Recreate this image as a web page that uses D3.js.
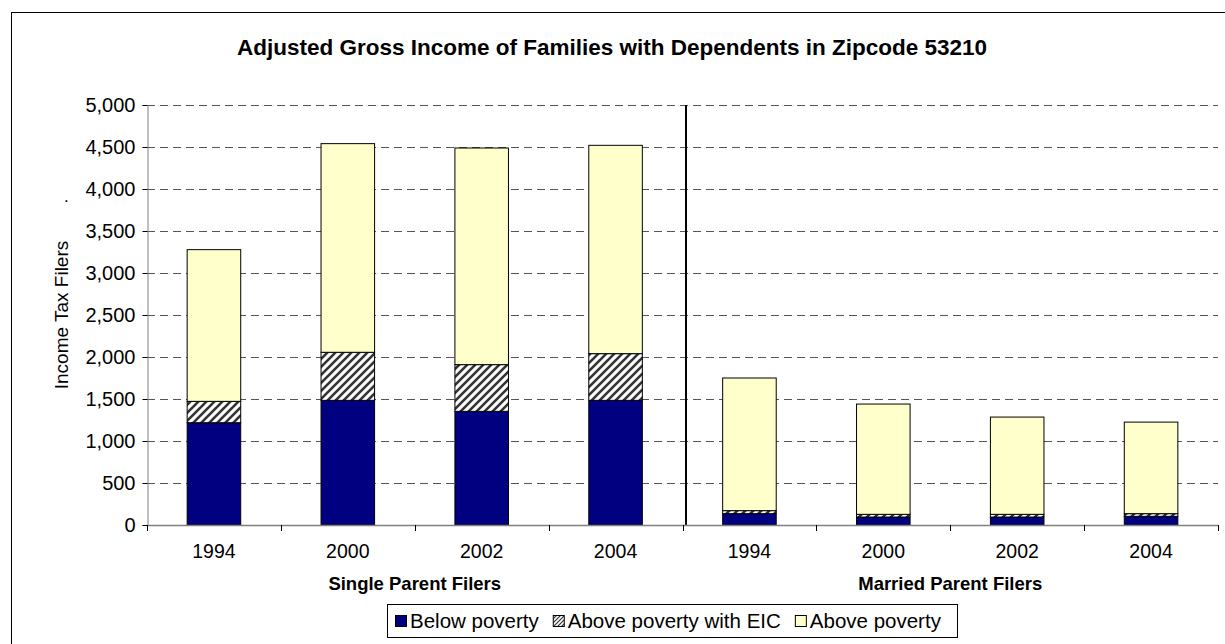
<!DOCTYPE html>
<html>
<head>
<meta charset="utf-8">
<script src="https://cdn.jsdelivr.net/npm/d3@7"></script>
<style>
  html, body { margin: 0; padding: 0; background: #fff; }
  svg { display: block; font-family: "Liberation Sans", Arial, sans-serif; }
</style>
</head>
<body>
<svg id="chart" width="1225" height="644"></svg>
<script>
// ---- data ----
const categories = ["1994", "2000", "2002", "2004", "1994", "2000", "2002", "2004"];
const groups = ["Single Parent Filers", "Married Parent Filers"];
const seriesNames = ["Below poverty", "Above poverty with EIC", "Above poverty"];
const belowPoverty = [1218, 1484, 1353, 1484, 135, 95, 95, 103];
const aboveWithEIC = [254, 572, 556, 556, 36, 32, 32, 32];
const abovePoverty = [1806, 2484, 2579, 2480, 1579, 1313, 1158, 1090];
const yTicks = [0, 500, 1000, 1500, 2000, 2500, 3000, 3500, 4000, 4500, 5000];
const titleText = "Adjusted Gross Income of Families with Dependents in Zipcode 53210";
const yAxisTitle = "Income Tax Filers";

// ---- build ----
const svg = d3.select("#chart");
const W = 1225, H = 644;
const plot = { left: 147, right: 1218, top: 105, bottom: 525 };

const defs = svg.append("defs");
const pat = defs.append("pattern")
  .attr("id", "hatch").attr("patternUnits", "userSpaceOnUse")
  .attr("width", 8).attr("height", 8);
pat.append("rect").attr("width", 8).attr("height", 8).attr("fill", "#fff");
pat.append("path").attr("d", "M-2,2 L2,-2 M0,8 L8,0 M6,10 L10,6")
  .attr("stroke", "#333").attr("stroke-width", 2.6);
const patS = defs.append("pattern")
  .attr("id", "hatchS").attr("patternUnits", "userSpaceOnUse")
  .attr("width", 4).attr("height", 4);
patS.append("rect").attr("width", 4).attr("height", 4).attr("fill", "#fff");
patS.append("path").attr("d", "M-1,1 L1,-1 M0,4 L4,0 M3,5 L5,3")
  .attr("stroke", "#333").attr("stroke-width", 1.2);

svg.append("rect").attr("width", W).attr("height", H).attr("fill", "#fff");
// outer border
svg.append("rect").attr("x", 11.5).attr("y", 12.5).attr("width", 1240).attr("height", 660)
  .attr("fill", "none").attr("stroke", "#000").attr("stroke-width", 1);

const idx = d3.range(categories.length);
const x = d3.scaleBand().domain(idx).range([plot.left, plot.right])
  .paddingInner(0.6).paddingOuter(0.3);
const y = d3.scaleLinear().domain([0, 5000]).range([plot.bottom, plot.top]);

// gridlines
svg.append("g").selectAll("line").data(yTicks.filter(d => d > 0)).join("line")
  .attr("x1", plot.left).attr("x2", plot.right)
  .attr("y1", d => Math.round(y(d)) + 0.5).attr("y2", d => Math.round(y(d)) + 0.5)
  .attr("stroke", "#555").attr("stroke-width", 1).attr("stroke-dasharray", "8,5");

// stacked bars
const rows = idx.map(i => ({ i, below: belowPoverty[i], eic: aboveWithEIC[i], above: abovePoverty[i] }));
const stack = d3.stack().keys(["below", "eic", "above"]);
const stacked = stack(rows);
const fills = { below: "#000080", eic: "url(#hatch)", above: "#FFFFCC" };
const gBars = svg.append("g");
stacked.forEach(layer => {
  gBars.append("g").selectAll("rect").data(layer).join("rect")
    .attr("x", d => x(d.data.i))
    .attr("width", x.bandwidth())
    .attr("y", d => y(d[1]))
    .attr("height", d => y(d[0]) - y(d[1]))
    .attr("fill", fills[layer.key])
    .attr("stroke", "#000").attr("stroke-width", 1);
});

// separator line between groups
const sepX = plot.left + x.step() * 4 + 3.5;
svg.append("line").attr("x1", sepX).attr("x2", sepX)
  .attr("y1", plot.top).attr("y2", plot.bottom)
  .attr("stroke", "#000").attr("stroke-width", 2);

// y axis
const yAxis = d3.axisLeft(y).tickValues(yTicks).tickSize(5).tickPadding(7)
  .tickFormat(d3.format(","));
const gy = svg.append("g").attr("transform", `translate(${plot.left + 0.5},0)`).call(yAxis);
gy.select(".domain").attr("stroke", "#808080");
gy.selectAll(".tick line").attr("stroke", "#000");
gy.selectAll("text").attr("font-size", 20).attr("fill", "#000")
  .attr("font-family", "Liberation Sans, Arial, sans-serif");

// x axis line + boundary ticks
svg.append("line").attr("x1", plot.left).attr("x2", plot.right)
  .attr("y1", plot.bottom + 0.5).attr("y2", plot.bottom + 0.5)
  .attr("stroke", "#808080").attr("stroke-width", 1.5);
const bounds = d3.range(categories.length + 1).map(k => plot.left + k * x.step());
svg.append("g").selectAll("line").data(bounds).join("line")
  .attr("x1", d => Math.round(d) + 0.5).attr("x2", d => Math.round(d) + 0.5)
  .attr("y1", plot.bottom).attr("y2", plot.bottom + 6)
  .attr("stroke", "#000").attr("stroke-width", 1);

// category labels
svg.append("g").selectAll("text").data(idx).join("text")
  .attr("x", d => x(d) + x.bandwidth() / 2)
  .attr("y", 558)
  .attr("text-anchor", "middle").attr("font-size", 19.5)
  .text(d => categories[d]);

// group labels
svg.append("g").selectAll("text").data(groups).join("text")
  .attr("x", (d, g) => plot.left + x.step() * (2 + 4 * g))
  .attr("y", 590)
  .attr("text-anchor", "middle").attr("font-size", 18.5).attr("font-weight", "bold")
  .text(d => d);

// title
svg.append("text").attr("x", 612).attr("y", 55).attr("text-anchor", "middle")
  .attr("font-size", 22.5).attr("font-weight", "bold").text(titleText);

// y axis title
svg.append("text").attr("transform", "translate(68,315) rotate(-90)")
  .attr("text-anchor", "middle").attr("font-size", 19).text(yAxisTitle);
// stray dot
svg.append("text").attr("x", 64).attr("y", 202).attr("font-size", 17).text(".");

// legend
svg.append("rect").attr("x", 387.5).attr("y", 604.5).attr("width", 570).attr("height", 33)
  .attr("fill", "#fff").attr("stroke", "#000").attr("stroke-width", 1);
const legendKeys = ["below", "eic", "above"];
const gL = svg.append("g");
let lx = 395;
legendKeys.forEach((k, j) => {
  gL.append("rect").attr("x", lx + 0.5).attr("y", 615.5).attr("width", 11).attr("height", 11)
    .attr("fill", k === "eic" ? "url(#hatchS)" : fills[k]).attr("stroke", "#000").attr("stroke-width", 1);
  const t = gL.append("text").attr("x", lx + 15).attr("y", 628).attr("font-size", 20.5)
    .text(seriesNames[j]);
  lx += 15 + t.node().getComputedTextLength() + 14;
});
</script>
</body>
</html>
